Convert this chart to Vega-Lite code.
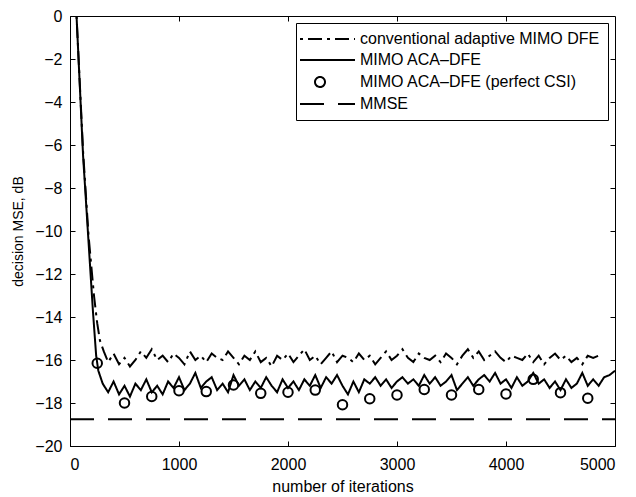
{
  "$schema": "https://vega.github.io/schema/vega-lite/v6.json",
  "width": 545,
  "height": 430,
  "autosize": "none",
  "padding": {"left": 70, "top": 16, "right": 21, "bottom": 51},
  "background": "white",
  "config": {
    "view": {"stroke": "black", "strokeWidth": 1},
    "font": "Liberation Sans",
    "axis": {"grid": false, "domainColor": "black", "tickColor": "black", "labelColor": "black", "titleColor": "black", "labelFontSize": 16, "titleFontSize": 16, "titleFontWeight": "normal", "tickSize": -5, "domainWidth": 1}
  },
  "datasets": {
    "curves": [
      {"series": "MIMO ACA–DFE", "x": 60, "y": 0},
      {"series": "MIMO ACA–DFE", "x": 120, "y": -6.5},
      {"series": "MIMO ACA–DFE", "x": 170, "y": -10.5},
      {"series": "MIMO ACA–DFE", "x": 210, "y": -13.7},
      {"series": "MIMO ACA–DFE", "x": 240, "y": -15.8},
      {"series": "MIMO ACA–DFE", "x": 260, "y": -16.5},
      {"series": "MIMO ACA–DFE", "x": 300, "y": -17.1},
      {"series": "MIMO ACA–DFE", "x": 350, "y": -17.5},
      {"series": "MIMO ACA–DFE", "x": 400, "y": -17.0},
      {"series": "MIMO ACA–DFE", "x": 450, "y": -17.6},
      {"series": "MIMO ACA–DFE", "x": 500, "y": -17.2},
      {"series": "MIMO ACA–DFE", "x": 550, "y": -17.7},
      {"series": "MIMO ACA–DFE", "x": 600, "y": -17.1},
      {"series": "MIMO ACA–DFE", "x": 650, "y": -17.4},
      {"series": "MIMO ACA–DFE", "x": 700, "y": -16.9},
      {"series": "MIMO ACA–DFE", "x": 750, "y": -17.5},
      {"series": "MIMO ACA–DFE", "x": 800, "y": -17.2},
      {"series": "MIMO ACA–DFE", "x": 850, "y": -17.6},
      {"series": "MIMO ACA–DFE", "x": 900, "y": -17.0},
      {"series": "MIMO ACA–DFE", "x": 950, "y": -17.3},
      {"series": "MIMO ACA–DFE", "x": 1000, "y": -16.8},
      {"series": "MIMO ACA–DFE", "x": 1050, "y": -17.4},
      {"series": "MIMO ACA–DFE", "x": 1100, "y": -17.1},
      {"series": "MIMO ACA–DFE", "x": 1150, "y": -16.6},
      {"series": "MIMO ACA–DFE", "x": 1200, "y": -17.3},
      {"series": "MIMO ACA–DFE", "x": 1250, "y": -17.0},
      {"series": "MIMO ACA–DFE", "x": 1300, "y": -16.8},
      {"series": "MIMO ACA–DFE", "x": 1350, "y": -17.4},
      {"series": "MIMO ACA–DFE", "x": 1400, "y": -17.1},
      {"series": "MIMO ACA–DFE", "x": 1450, "y": -17.5},
      {"series": "MIMO ACA–DFE", "x": 1500, "y": -16.7},
      {"series": "MIMO ACA–DFE", "x": 1550, "y": -17.2},
      {"series": "MIMO ACA–DFE", "x": 1600, "y": -16.9},
      {"series": "MIMO ACA–DFE", "x": 1650, "y": -17.4},
      {"series": "MIMO ACA–DFE", "x": 1700, "y": -17.0},
      {"series": "MIMO ACA–DFE", "x": 1750, "y": -17.3},
      {"series": "MIMO ACA–DFE", "x": 1800, "y": -16.8},
      {"series": "MIMO ACA–DFE", "x": 1850, "y": -17.2},
      {"series": "MIMO ACA–DFE", "x": 1900, "y": -17.5},
      {"series": "MIMO ACA–DFE", "x": 1950, "y": -16.9},
      {"series": "MIMO ACA–DFE", "x": 2000, "y": -17.3},
      {"series": "MIMO ACA–DFE", "x": 2050, "y": -17.0},
      {"series": "MIMO ACA–DFE", "x": 2100, "y": -17.4},
      {"series": "MIMO ACA–DFE", "x": 2150, "y": -16.9},
      {"series": "MIMO ACA–DFE", "x": 2200, "y": -17.2},
      {"series": "MIMO ACA–DFE", "x": 2250, "y": -16.7},
      {"series": "MIMO ACA–DFE", "x": 2300, "y": -17.3},
      {"series": "MIMO ACA–DFE", "x": 2350, "y": -16.8},
      {"series": "MIMO ACA–DFE", "x": 2400, "y": -17.1},
      {"series": "MIMO ACA–DFE", "x": 2450, "y": -16.7},
      {"series": "MIMO ACA–DFE", "x": 2500, "y": -17.2},
      {"series": "MIMO ACA–DFE", "x": 2550, "y": -17.6},
      {"series": "MIMO ACA–DFE", "x": 2600, "y": -17.0},
      {"series": "MIMO ACA–DFE", "x": 2650, "y": -17.5},
      {"series": "MIMO ACA–DFE", "x": 2700, "y": -16.9},
      {"series": "MIMO ACA–DFE", "x": 2750, "y": -17.1},
      {"series": "MIMO ACA–DFE", "x": 2800, "y": -16.8},
      {"series": "MIMO ACA–DFE", "x": 2850, "y": -17.2},
      {"series": "MIMO ACA–DFE", "x": 2900, "y": -16.9},
      {"series": "MIMO ACA–DFE", "x": 2950, "y": -17.3},
      {"series": "MIMO ACA–DFE", "x": 3000, "y": -17.0},
      {"series": "MIMO ACA–DFE", "x": 3050, "y": -16.8},
      {"series": "MIMO ACA–DFE", "x": 3100, "y": -17.1},
      {"series": "MIMO ACA–DFE", "x": 3150, "y": -16.9},
      {"series": "MIMO ACA–DFE", "x": 3200, "y": -17.2},
      {"series": "MIMO ACA–DFE", "x": 3250, "y": -16.7},
      {"series": "MIMO ACA–DFE", "x": 3300, "y": -17.1},
      {"series": "MIMO ACA–DFE", "x": 3350, "y": -16.8},
      {"series": "MIMO ACA–DFE", "x": 3400, "y": -17.2},
      {"series": "MIMO ACA–DFE", "x": 3450, "y": -17.0},
      {"series": "MIMO ACA–DFE", "x": 3500, "y": -16.7},
      {"series": "MIMO ACA–DFE", "x": 3550, "y": -17.4},
      {"series": "MIMO ACA–DFE", "x": 3600, "y": -17.1},
      {"series": "MIMO ACA–DFE", "x": 3650, "y": -16.8},
      {"series": "MIMO ACA–DFE", "x": 3700, "y": -17.2},
      {"series": "MIMO ACA–DFE", "x": 3750, "y": -16.9},
      {"series": "MIMO ACA–DFE", "x": 3800, "y": -16.7},
      {"series": "MIMO ACA–DFE", "x": 3850, "y": -17.0},
      {"series": "MIMO ACA–DFE", "x": 3900, "y": -16.6},
      {"series": "MIMO ACA–DFE", "x": 3950, "y": -17.1},
      {"series": "MIMO ACA–DFE", "x": 4000, "y": -16.9},
      {"series": "MIMO ACA–DFE", "x": 4050, "y": -17.3},
      {"series": "MIMO ACA–DFE", "x": 4100, "y": -16.8},
      {"series": "MIMO ACA–DFE", "x": 4150, "y": -17.2},
      {"series": "MIMO ACA–DFE", "x": 4200, "y": -17.0},
      {"series": "MIMO ACA–DFE", "x": 4250, "y": -16.6},
      {"series": "MIMO ACA–DFE", "x": 4300, "y": -17.1},
      {"series": "MIMO ACA–DFE", "x": 4350, "y": -16.9},
      {"series": "MIMO ACA–DFE", "x": 4400, "y": -17.3},
      {"series": "MIMO ACA–DFE", "x": 4450, "y": -17.0},
      {"series": "MIMO ACA–DFE", "x": 4500, "y": -17.4},
      {"series": "MIMO ACA–DFE", "x": 4550, "y": -16.9},
      {"series": "MIMO ACA–DFE", "x": 4600, "y": -17.3},
      {"series": "MIMO ACA–DFE", "x": 4650, "y": -17.1},
      {"series": "MIMO ACA–DFE", "x": 4700, "y": -16.6},
      {"series": "MIMO ACA–DFE", "x": 4750, "y": -17.2},
      {"series": "MIMO ACA–DFE", "x": 4800, "y": -16.9},
      {"series": "MIMO ACA–DFE", "x": 4850, "y": -17.2},
      {"series": "MIMO ACA–DFE", "x": 4900, "y": -16.8},
      {"series": "MIMO ACA–DFE", "x": 4950, "y": -16.7},
      {"series": "MIMO ACA–DFE", "x": 5000, "y": -16.5},
      {"series": "conventional adaptive MIMO DFE", "x": 60, "y": 0},
      {"series": "conventional adaptive MIMO DFE", "x": 120, "y": -6.3},
      {"series": "conventional adaptive MIMO DFE", "x": 170, "y": -10.2},
      {"series": "conventional adaptive MIMO DFE", "x": 220, "y": -13.0},
      {"series": "conventional adaptive MIMO DFE", "x": 250, "y": -14.3},
      {"series": "conventional adaptive MIMO DFE", "x": 275, "y": -15.1},
      {"series": "conventional adaptive MIMO DFE", "x": 310, "y": -15.6},
      {"series": "conventional adaptive MIMO DFE", "x": 350, "y": -16.1},
      {"series": "conventional adaptive MIMO DFE", "x": 400, "y": -15.7},
      {"series": "conventional adaptive MIMO DFE", "x": 450, "y": -16.2},
      {"series": "conventional adaptive MIMO DFE", "x": 500, "y": -15.9},
      {"series": "conventional adaptive MIMO DFE", "x": 550, "y": -16.3},
      {"series": "conventional adaptive MIMO DFE", "x": 600, "y": -16.0},
      {"series": "conventional adaptive MIMO DFE", "x": 650, "y": -15.6},
      {"series": "conventional adaptive MIMO DFE", "x": 700, "y": -15.9},
      {"series": "conventional adaptive MIMO DFE", "x": 750, "y": -15.5},
      {"series": "conventional adaptive MIMO DFE", "x": 800, "y": -16.0},
      {"series": "conventional adaptive MIMO DFE", "x": 850, "y": -15.8},
      {"series": "conventional adaptive MIMO DFE", "x": 900, "y": -16.1},
      {"series": "conventional adaptive MIMO DFE", "x": 950, "y": -15.7},
      {"series": "conventional adaptive MIMO DFE", "x": 1000, "y": -15.9},
      {"series": "conventional adaptive MIMO DFE", "x": 1050, "y": -16.2},
      {"series": "conventional adaptive MIMO DFE", "x": 1100, "y": -15.6},
      {"series": "conventional adaptive MIMO DFE", "x": 1150, "y": -16.0},
      {"series": "conventional adaptive MIMO DFE", "x": 1200, "y": -15.8},
      {"series": "conventional adaptive MIMO DFE", "x": 1250, "y": -16.1},
      {"series": "conventional adaptive MIMO DFE", "x": 1300, "y": -15.7},
      {"series": "conventional adaptive MIMO DFE", "x": 1350, "y": -15.9},
      {"series": "conventional adaptive MIMO DFE", "x": 1400, "y": -16.0},
      {"series": "conventional adaptive MIMO DFE", "x": 1450, "y": -15.6},
      {"series": "conventional adaptive MIMO DFE", "x": 1500, "y": -15.9},
      {"series": "conventional adaptive MIMO DFE", "x": 1550, "y": -16.2},
      {"series": "conventional adaptive MIMO DFE", "x": 1600, "y": -15.8},
      {"series": "conventional adaptive MIMO DFE", "x": 1650, "y": -16.0},
      {"series": "conventional adaptive MIMO DFE", "x": 1700, "y": -15.6},
      {"series": "conventional adaptive MIMO DFE", "x": 1750, "y": -16.1},
      {"series": "conventional adaptive MIMO DFE", "x": 1800, "y": -15.9},
      {"series": "conventional adaptive MIMO DFE", "x": 1850, "y": -16.3},
      {"series": "conventional adaptive MIMO DFE", "x": 1900, "y": -15.8},
      {"series": "conventional adaptive MIMO DFE", "x": 1950, "y": -16.0},
      {"series": "conventional adaptive MIMO DFE", "x": 2000, "y": -15.7},
      {"series": "conventional adaptive MIMO DFE", "x": 2050, "y": -16.1},
      {"series": "conventional adaptive MIMO DFE", "x": 2100, "y": -15.8},
      {"series": "conventional adaptive MIMO DFE", "x": 2150, "y": -15.5},
      {"series": "conventional adaptive MIMO DFE", "x": 2200, "y": -16.0},
      {"series": "conventional adaptive MIMO DFE", "x": 2250, "y": -15.8},
      {"series": "conventional adaptive MIMO DFE", "x": 2300, "y": -16.2},
      {"series": "conventional adaptive MIMO DFE", "x": 2350, "y": -15.9},
      {"series": "conventional adaptive MIMO DFE", "x": 2400, "y": -15.6},
      {"series": "conventional adaptive MIMO DFE", "x": 2450, "y": -16.1},
      {"series": "conventional adaptive MIMO DFE", "x": 2500, "y": -15.8},
      {"series": "conventional adaptive MIMO DFE", "x": 2550, "y": -15.9},
      {"series": "conventional adaptive MIMO DFE", "x": 2600, "y": -16.1},
      {"series": "conventional adaptive MIMO DFE", "x": 2650, "y": -15.7},
      {"series": "conventional adaptive MIMO DFE", "x": 2700, "y": -16.0},
      {"series": "conventional adaptive MIMO DFE", "x": 2750, "y": -15.8},
      {"series": "conventional adaptive MIMO DFE", "x": 2800, "y": -16.2},
      {"series": "conventional adaptive MIMO DFE", "x": 2850, "y": -15.9},
      {"series": "conventional adaptive MIMO DFE", "x": 2900, "y": -15.6},
      {"series": "conventional adaptive MIMO DFE", "x": 2950, "y": -16.0},
      {"series": "conventional adaptive MIMO DFE", "x": 3000, "y": -15.8},
      {"series": "conventional adaptive MIMO DFE", "x": 3050, "y": -15.5},
      {"series": "conventional adaptive MIMO DFE", "x": 3100, "y": -15.9},
      {"series": "conventional adaptive MIMO DFE", "x": 3150, "y": -16.1},
      {"series": "conventional adaptive MIMO DFE", "x": 3200, "y": -15.7},
      {"series": "conventional adaptive MIMO DFE", "x": 3250, "y": -15.9},
      {"series": "conventional adaptive MIMO DFE", "x": 3300, "y": -16.0},
      {"series": "conventional adaptive MIMO DFE", "x": 3350, "y": -15.8},
      {"series": "conventional adaptive MIMO DFE", "x": 3400, "y": -16.1},
      {"series": "conventional adaptive MIMO DFE", "x": 3450, "y": -15.7},
      {"series": "conventional adaptive MIMO DFE", "x": 3500, "y": -15.9},
      {"series": "conventional adaptive MIMO DFE", "x": 3550, "y": -16.2},
      {"series": "conventional adaptive MIMO DFE", "x": 3600, "y": -15.8},
      {"series": "conventional adaptive MIMO DFE", "x": 3650, "y": -15.5},
      {"series": "conventional adaptive MIMO DFE", "x": 3700, "y": -15.9},
      {"series": "conventional adaptive MIMO DFE", "x": 3750, "y": -15.6},
      {"series": "conventional adaptive MIMO DFE", "x": 3800, "y": -16.0},
      {"series": "conventional adaptive MIMO DFE", "x": 3850, "y": -15.8},
      {"series": "conventional adaptive MIMO DFE", "x": 3900, "y": -15.6},
      {"series": "conventional adaptive MIMO DFE", "x": 3950, "y": -15.9},
      {"series": "conventional adaptive MIMO DFE", "x": 4000, "y": -16.1},
      {"series": "conventional adaptive MIMO DFE", "x": 4050, "y": -15.8},
      {"series": "conventional adaptive MIMO DFE", "x": 4100, "y": -15.9},
      {"series": "conventional adaptive MIMO DFE", "x": 4150, "y": -16.0},
      {"series": "conventional adaptive MIMO DFE", "x": 4200, "y": -15.7},
      {"series": "conventional adaptive MIMO DFE", "x": 4250, "y": -16.1},
      {"series": "conventional adaptive MIMO DFE", "x": 4300, "y": -15.8},
      {"series": "conventional adaptive MIMO DFE", "x": 4350, "y": -16.2},
      {"series": "conventional adaptive MIMO DFE", "x": 4400, "y": -15.9},
      {"series": "conventional adaptive MIMO DFE", "x": 4450, "y": -15.7},
      {"series": "conventional adaptive MIMO DFE", "x": 4500, "y": -16.0},
      {"series": "conventional adaptive MIMO DFE", "x": 4550, "y": -15.8},
      {"series": "conventional adaptive MIMO DFE", "x": 4600, "y": -16.1},
      {"series": "conventional adaptive MIMO DFE", "x": 4650, "y": -15.9},
      {"series": "conventional adaptive MIMO DFE", "x": 4700, "y": -16.2},
      {"series": "conventional adaptive MIMO DFE", "x": 4750, "y": -15.8},
      {"series": "conventional adaptive MIMO DFE", "x": 4800, "y": -15.9},
      {"series": "conventional adaptive MIMO DFE", "x": 4850, "y": -15.8},
      {"series": "MMSE", "x": 0, "y": -18.75},
      {"series": "MMSE", "x": 5000, "y": -18.75}
    ],
    "csi": [
      {"series": "MIMO ACA–DFE (perfect CSI)", "x": 250, "y": -16.15},
      {"series": "MIMO ACA–DFE (perfect CSI)", "x": 500, "y": -18.0},
      {"series": "MIMO ACA–DFE (perfect CSI)", "x": 750, "y": -17.7},
      {"series": "MIMO ACA–DFE (perfect CSI)", "x": 1000, "y": -17.43},
      {"series": "MIMO ACA–DFE (perfect CSI)", "x": 1250, "y": -17.47},
      {"series": "MIMO ACA–DFE (perfect CSI)", "x": 1500, "y": -17.16},
      {"series": "MIMO ACA–DFE (perfect CSI)", "x": 1750, "y": -17.55},
      {"series": "MIMO ACA–DFE (perfect CSI)", "x": 2000, "y": -17.5},
      {"series": "MIMO ACA–DFE (perfect CSI)", "x": 2250, "y": -17.4},
      {"series": "MIMO ACA–DFE (perfect CSI)", "x": 2500, "y": -18.08},
      {"series": "MIMO ACA–DFE (perfect CSI)", "x": 2750, "y": -17.8},
      {"series": "MIMO ACA–DFE (perfect CSI)", "x": 3000, "y": -17.63},
      {"series": "MIMO ACA–DFE (perfect CSI)", "x": 3250, "y": -17.37},
      {"series": "MIMO ACA–DFE (perfect CSI)", "x": 3500, "y": -17.63},
      {"series": "MIMO ACA–DFE (perfect CSI)", "x": 3750, "y": -17.37},
      {"series": "MIMO ACA–DFE (perfect CSI)", "x": 4000, "y": -17.58},
      {"series": "MIMO ACA–DFE (perfect CSI)", "x": 4250, "y": -16.9},
      {"series": "MIMO ACA–DFE (perfect CSI)", "x": 4500, "y": -17.52},
      {"series": "MIMO ACA–DFE (perfect CSI)", "x": 4750, "y": -17.78}
    ]
  },
  "resolve": {"axis": {"x": "independent", "y": "independent"}},
  "layer": [
    {
      "data": {"name": "curves"},
      "mark": {"type": "line", "color": "black", "strokeWidth": 2, "clip": true},
      "encoding": {
        "x": {"field": "x", "type": "quantitative", "scale": {"domain": [0, 5000], "nice": false},
              "axis": {"orient": "bottom", "title": "number of iterations", "format": "d", "values": [0, 1000, 2000, 3000, 4000, 5000], "labelPadding": 15, "titlePadding": 6}},
        "y": {"field": "y", "type": "quantitative", "scale": {"domain": [-20, 0], "nice": false},
              "axis": {"orient": "left", "title": "decision MSE, dB", "titleFontSize": 14, "values": [-20, -18, -16, -14, -12, -10, -8, -6, -4, -2, 0], "labelPadding": 13, "titlePadding": 9}},
        "strokeDash": {"field": "series", "type": "nominal",
          "scale": {"domain": ["conventional adaptive MIMO DFE", "MIMO ACA–DFE", "MIMO ACA–DFE (perfect CSI)", "MMSE"],
                    "range": [[3, 5, 14, 5], [1, 0], [1, 0], [24, 14]]},
          "legend": {"title": null, "orient": "top-right", "offset": 7, "strokeColor": "black", "fillColor": "white", "padding": 8,
                     "labelFontSize": 16, "labelColor": "black", "labelLimit": 0, "symbolStrokeColor": "black", "symbolStrokeWidth": 2, "symbolSize": 100,
                     "symbolFillColor": "transparent", "rowPadding": 5, "labelOffset": 32, "symbolOffset": 8}
        }
      }
    },
    {
      "data": {"name": "csi"},
      "mark": {"type": "point", "color": "black", "strokeWidth": 2, "size": 90, "filled": false, "opacity": 1},
      "encoding": {
        "x": {"field": "x", "type": "quantitative", "axis": null},
        "y": {"field": "y", "type": "quantitative", "axis": null},
        "shape": {"field": "series", "type": "nominal",
          "scale": {"domain": ["conventional adaptive MIMO DFE", "MIMO ACA–DFE", "MIMO ACA–DFE (perfect CSI)", "MMSE"],
                    "range": ["M-4,0L7,0", "M-4,0L7,0", "circle", "M-4,0L7,0"]},
          "legend": {"title": null}}
      }
    },
    {
      "data": {"name": "csi"},
      "mark": {"type": "point", "opacity": 0},
      "encoding": {
        "x": {"field": "x", "type": "quantitative", "axis": {"orient": "top", "labels": false, "title": null, "values": [1000, 2000, 3000, 4000], "domain": false}},
        "y": {"field": "y", "type": "quantitative", "axis": {"orient": "right", "labels": false, "title": null, "values": [-18, -16, -14, -12, -10, -8, -6, -4, -2], "domain": false}}
      }
    }
  ]
}
